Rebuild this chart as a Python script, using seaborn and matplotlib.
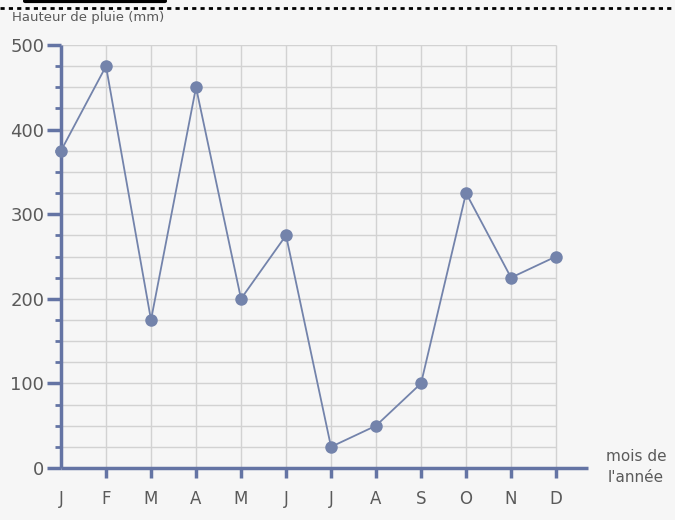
import numpy as np
import pandas as pd
import matplotlib.pyplot as plt
from matplotlib.lines import Line2D
import seaborn as sns

# donnees
mois = ["J", "F", "M", "A", "M", "J", "J", "A", "S", "O", "N", "D"]
pluie = [375, 475, 175, 450, 200, 275, 25, 50, 100, 325, 225, 250]

df = pd.DataFrame({"pos": np.arange(len(mois)), "pluie": pluie})

sns.set_style("white")
plt.rcParams["font.family"] = ["DejaVu Sans"]

bleu = "#7383ab"
axe = "#6474a4"
gris = "#5a5a5a"

fig = plt.figure(figsize=(6.75, 5.2), dpi=100, facecolor="#f6f6f6")
ax = fig.add_axes([61 / 675, 52 / 520, 527 / 675, 423 / 520])
ax.set_facecolor("#f6f6f6")

# grille
ax.hlines(np.arange(25, 501, 25), 0, len(mois) - 1, color="#d2d2d2", lw=1, zorder=0)
ax.vlines(np.arange(1, len(mois)), 0, 500, color="#d2d2d2", lw=1, zorder=0)

sns.lineplot(data=df, x="pos", y="pluie", ax=ax, color=bleu, lw=1.3,
             marker="o", markersize=9, markeredgewidth=0, zorder=3, clip_on=False)

ax.set_xlim(0, 11.71)
ax.set_ylim(0, 500)
ax.set_xticks(np.arange(len(mois)))
ax.set_xticklabels(mois)
ax.set_yticks(np.arange(0, 501, 100))
ax.set_yticks(np.arange(0, 501, 25), minor=True)

for s in ["top", "right"]:
    ax.spines[s].set_visible(False)
for s in ["left", "bottom"]:
    ax.spines[s].set_color(axe)
    ax.spines[s].set_linewidth(2.5)
    ax.spines[s].set_capstyle("butt")

ax.tick_params(axis="y", which="major", left=True, length=10, width=2.5, color=axe,
               labelsize=13, labelcolor=gris, pad=2)
ax.tick_params(axis="y", which="minor", left=True, length=4.5, width=2, color=axe)
ax.tick_params(axis="x", which="major", bottom=True, length=7, width=2.5, color=axe,
               labelsize=12, labelcolor=gris, pad=9)
ax.xaxis.get_major_ticks()[0].tick1line.set_visible(False)
for t in ax.yaxis.get_major_ticks() + ax.yaxis.get_minor_ticks():
    t.tick1line.set_clip_on(False)

ax.set_xlabel("")
ax.set_ylabel("")

fig.text(12 / 675, 1 - 17 / 520, "Hauteur de pluie (mm)", fontsize=9.5,
         color=gris, va="center", ha="left")
fig.text(636 / 675, 1 - 467 / 520, "mois de\nl'année", fontsize=11,
         color=gris, va="center", ha="center", linespacing=1.5)

# bordure pointillee du haut
fig.add_artist(Line2D([0, 1], [1 - 8 / 520, 1 - 8 / 520], transform=fig.transFigure,
                      color="black", lw=2, ls=(0, (1.5, 1.5))))
fig.add_artist(Line2D([25 / 675, 165 / 675], [1 - 1 / 520, 1 - 1 / 520],
                      transform=fig.transFigure, color="black", lw=3))

fig.savefig("out.png", dpi=100, facecolor=fig.get_facecolor())
